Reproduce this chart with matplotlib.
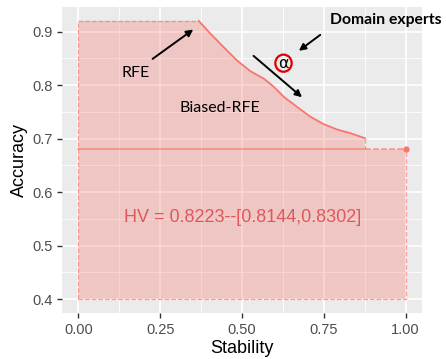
import numpy as np
import matplotlib
matplotlib.use("Agg")
import matplotlib.pyplot as plt
from matplotlib.patches import Polygon, Ellipse

# pareto curve of biased RFE (stability, accuracy)
curve_x = [0.368, 0.404, 0.444, 0.485, 0.526, 0.567, 0.597, 0.628, 0.669, 0.709, 0.750, 0.791, 0.832, 0.875]
curve_y = [0.920, 0.896, 0.871, 0.846, 0.826, 0.812, 0.797, 0.778, 0.759, 0.741, 0.727, 0.717, 0.710, 0.701]
# domain experts point and reference level
expert_x = 1.0
expert_y = 0.68
ref_y = 0.40

hv_text = "HV = 0.8223--[0.8144,0.8302]"
x_ticks = [0.00, 0.25, 0.50, 0.75, 1.00]
x_labels = ["0.00", "0.25", "0.50", "0.75", "1.00"]
y_ticks = [0.4, 0.5, 0.6, 0.7, 0.8, 0.9]

red = "#F8766D"

fig = plt.figure(figsize=(4.46, 3.59), dpi=100)
ax = fig.add_axes([0.139, 0.128, 0.807, 0.8525])
ax.set_facecolor("#EBEBEB")
for s in ax.spines.values():
	s.set_visible(False)

ax.set_xlim(-0.05, 1.05)
ax.set_ylim(0.374, 0.946)

# grid
for v in [0.125, 0.375, 0.625, 0.875]:
	ax.axvline(v, color="white", lw=0.6, zorder=0)
for v in [0.45, 0.55, 0.65, 0.75, 0.85]:
	ax.axhline(v, color="white", lw=0.6, zorder=0)
for v in x_ticks:
	ax.axvline(v, color="white", lw=1.2, zorder=0)
for v in y_ticks:
	ax.axhline(v, color="white", lw=1.2, zorder=0)

# filled dominated region
poly = [(0, ref_y), (0, curve_y[0])] + list(zip(curve_x, curve_y)) + \
	[(curve_x[-1], expert_y), (expert_x, expert_y), (expert_x, ref_y)]
ax.add_patch(Polygon(poly, closed=True, facecolor=red, alpha=0.3, edgecolor="none", zorder=1))

# dashed boundary
ax.plot([0, 0, curve_x[0]], [ref_y, curve_y[0], curve_y[0]], ls="--", color=red, lw=0.9, alpha=0.7, zorder=2)
ax.plot([0, expert_x, expert_x], [ref_y, ref_y, expert_y], ls="--", color=red, lw=0.9, alpha=0.7, zorder=2)
ax.plot([curve_x[-1], curve_x[-1]], [curve_y[-1], expert_y], ls="--", color=red, lw=1.0, alpha=0.7, zorder=2)
ax.plot([0, curve_x[-1]], [expert_y, expert_y], color=red, lw=1.1, alpha=0.8, zorder=2)
ax.plot([curve_x[-1], expert_x], [expert_y, expert_y], ls="--", color=red, lw=1.1, alpha=0.8, zorder=2)
ax.plot(curve_x, curve_y, color=red, lw=1.3, zorder=3)
ax.plot([expert_x], [expert_y], "o", color=red, ms=3.5, zorder=3)

# annotations
ax.text(0.502, 0.552, hv_text, color="#E0575A", fontsize=13, family="Liberation Sans",
	ha="center", va="center", zorder=4)
ax.text(0.174, 0.823, "RFE", fontsize=11.5, family="Lato", ha="center", va="center", zorder=4)
ax.text(0.431, 0.757, "Biased-RFE", fontsize=11.5, family="Lato", ha="center", va="center", zorder=4)
ax.text(0.94, 0.921, "Domain experts", fontsize=11.3, family="Lato", weight="bold",
	ha="center", va="center", zorder=4, clip_on=False)
ax.text(0.627, 0.841, "\u03b1", fontsize=11.5, family="DejaVu Sans", ha="center", va="center", zorder=4)
ax.add_patch(Ellipse((0.627, 0.841), 0.05, 0.032, facecolor="none", edgecolor="#E00000", lw=1.6, zorder=4))

arrow = dict(arrowstyle="-|>", color="black", lw=1.4, mutation_scale=10)
ax.annotate("", xy=(0.358, 0.907), xytext=(0.220, 0.846), arrowprops=arrow, zorder=4)
ax.annotate("", xy=(0.667, 0.861), xytext=(0.746, 0.897), arrowprops=arrow, zorder=4)
ax.annotate("", xy=(0.690, 0.774), xytext=(0.529, 0.858), arrowprops=arrow, zorder=4)

ax.set_xticks(x_ticks)
ax.set_xticklabels(x_labels)
ax.set_yticks(y_ticks)
ax.tick_params(colors="#333333", labelcolor="#4D4D4D", labelsize=10.5, length=3.5, width=1)
for lab in ax.get_xticklabels() + ax.get_yticklabels():
	lab.set_family("Liberation Sans")
ax.set_xlabel("Stability", fontsize=13, family="Liberation Sans", labelpad=2)
ax.set_ylabel("Accuracy", fontsize=13, family="Liberation Sans", labelpad=3)

fig.savefig("out.png", dpi=100)
